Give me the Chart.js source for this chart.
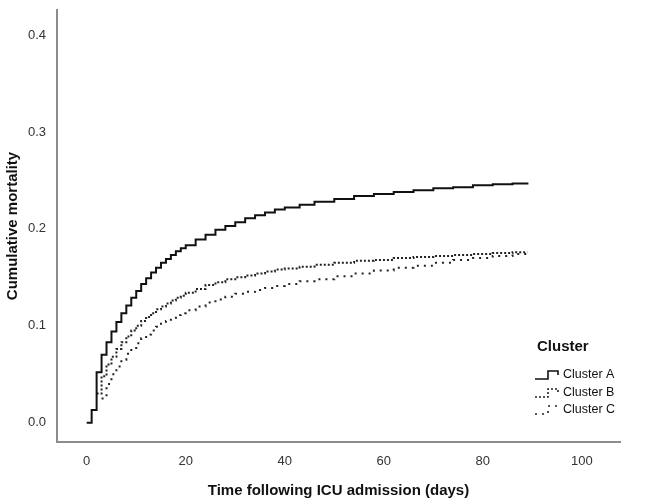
<!DOCTYPE html>
<html>
<head>
<meta charset="utf-8">
<script src="https://cdn.jsdelivr.net/npm/chart.js@4.4.0/dist/chart.umd.min.js"></script>
<style>
    html, body { margin: 0; padding: 0; background: #fff; }
    #chart-container { width: 645px; height: 500px; }
</style>
</head>
<body>
<div id="chart-container"><canvas id="myChart" width="645" height="500"></canvas></div>
<script>
// Dias de seguimiento (eje x)
const days = [0, 1, 2, 3, 4, 5, 6, 7, 8, 9, 10, 11, 12, 13, 14, 15, 16, 17, 18, 19, 20,
    22, 24, 26, 28, 30, 32, 34, 36, 38, 40, 43, 46, 50, 54, 58, 62, 66, 70, 74, 78, 82, 86, 89];

const clusterNames = ['Cluster A', 'Cluster B', 'Cluster C'];

const clusterA = [0.000, 0.013, 0.052, 0.070, 0.083, 0.094, 0.104, 0.113, 0.121, 0.129, 0.136,
    0.143, 0.149, 0.155, 0.160, 0.165, 0.169, 0.173, 0.177, 0.180, 0.183,
    0.189, 0.194, 0.199, 0.203, 0.207, 0.211, 0.214, 0.217, 0.220, 0.222,
    0.225, 0.228, 0.231, 0.234, 0.236, 0.238, 0.240, 0.242, 0.243, 0.245, 0.246, 0.247, 0.248];

const clusterB = [null, null, 0.030, 0.048, 0.060, 0.068, 0.076, 0.083, 0.089, 0.095, 0.100,
    0.105, 0.109, 0.113, 0.117, 0.120, 0.123, 0.126, 0.129, 0.131, 0.134,
    0.138, 0.142, 0.145, 0.148, 0.150, 0.152, 0.154, 0.156, 0.158, 0.159,
    0.161, 0.163, 0.165, 0.167, 0.168, 0.170, 0.171, 0.172, 0.173, 0.174, 0.175, 0.176, 0.176];

const clusterC = [null, null, null, 0.025, 0.040, 0.050, 0.058, 0.065, 0.071, 0.077, 0.082,
    0.087, 0.091, 0.095, 0.099, 0.102, 0.105, 0.108, 0.111, 0.113, 0.116,
    0.120, 0.124, 0.127, 0.130, 0.133, 0.135, 0.137, 0.139, 0.141, 0.143,
    0.146, 0.148, 0.151, 0.154, 0.157, 0.160, 0.162, 0.165, 0.168, 0.170, 0.172, 0.174, 0.175];

const xTicks = [0, 20, 40, 60, 80, 100];
const yTicks = [0.0, 0.1, 0.2, 0.3, 0.4];

const FONT = "'Liberation Sans', Arial, sans-serif";

function toPoints(values) {
    return days.map((d, i) => ({ x: d, y: values[i] }));
}

// Leyenda dibujada a mano, abajo a la derecha
const clusterLegend = {
    id: 'clusterLegend',
    afterDraw(chart) {
        const ctx = chart.ctx;
        const x0 = 535;
        ctx.save();
        ctx.fillStyle = '#111';
        ctx.textBaseline = 'middle';
        ctx.textAlign = 'left';
        ctx.font = 'bold 15px ' + FONT;
        ctx.fillText('Cluster', 537, 347);
        ctx.font = '12.5px ' + FONT;
        const rows = [375, 393, 410];
        chart.data.datasets.forEach((ds, i) => {
            const y = rows[i];
            ctx.strokeStyle = ds.borderColor;
            ctx.lineWidth = 1.6;
            ctx.setLineDash(ds.borderDash || []);
            ctx.beginPath();
            ctx.moveTo(x0, y + 4);
            ctx.lineTo(x0 + 13, y + 4);
            ctx.lineTo(x0 + 13, y - 4);
            ctx.lineTo(x0 + 23, y - 4);
            ctx.lineTo(x0 + 23, y);
            ctx.stroke();
            ctx.setLineDash([]);
            ctx.fillText(ds.label, 563, y);
        });
        ctx.restore();
    }
};

document.addEventListener('DOMContentLoaded', function () {
    const ctx = document.getElementById('myChart').getContext('2d');
    new Chart(ctx, {
        type: 'line',
        data: {
            datasets: [{
                label: clusterNames[0],
                data: toPoints(clusterA),
                borderColor: '#111',
                borderWidth: 2,
                stepped: true
            }, {
                label: clusterNames[1],
                data: toPoints(clusterB),
                borderColor: '#222',
                borderWidth: 2,
                borderDash: [2, 2],
                stepped: true
            }, {
                label: clusterNames[2],
                data: toPoints(clusterC),
                borderColor: '#222',
                borderWidth: 2,
                borderDash: [2, 5],
                stepped: true
            }]
        },
        options: {
            responsive: false,
            animation: false,
            layout: { padding: { top: 10, right: 25, bottom: 0, left: 0 } },
            elements: { point: { radius: 0 } },
            plugins: {
                legend: { display: false },
                tooltip: { enabled: false }
            },
            scales: {
                x: {
                    type: 'linear',
                    min: -6,
                    max: 107.7,
                    afterBuildTicks: scale => { scale.ticks = xTicks.map(v => ({ value: v })); },
                    afterFit: scale => {
                        scale.height = 58;
                        scale.paddingLeft = 0;
                        scale.paddingRight = 0;
                    },
                    grid: { display: false, drawTicks: false },
                    border: { color: '#8c8c8c', width: 2 },
                    ticks: { padding: 12, color: '#333', font: { family: FONT, size: 13 } },
                    title: {
                        display: true,
                        text: 'Time following ICU admission (days)',
                        color: '#111',
                        padding: { top: 0, bottom: 0 },
                        font: { family: FONT, size: 15, weight: 'bold' }
                    }
                },
                y: {
                    min: -0.02,
                    max: 0.426,
                    afterBuildTicks: scale => { scale.ticks = yTicks.map(v => ({ value: v })); },
                    afterFit: scale => {
                        scale.width = 57;
                        scale.paddingTop = 0;
                        scale.paddingBottom = 0;
                    },
                    grid: { display: false, drawTicks: false },
                    border: { color: '#8c8c8c', width: 2 },
                    ticks: {
                        padding: 11,
                        color: '#333',
                        font: { family: FONT, size: 13 },
                        callback: v => v.toFixed(1)
                    },
                    title: {
                        display: true,
                        text: 'Cumulative mortality',
                        color: '#111',
                        padding: { top: 4, bottom: 0 },
                        font: { family: FONT, size: 15, weight: 'bold' }
                    }
                }
            }
        },
        plugins: [clusterLegend]
    });
});
</script>
</body>
</html>
